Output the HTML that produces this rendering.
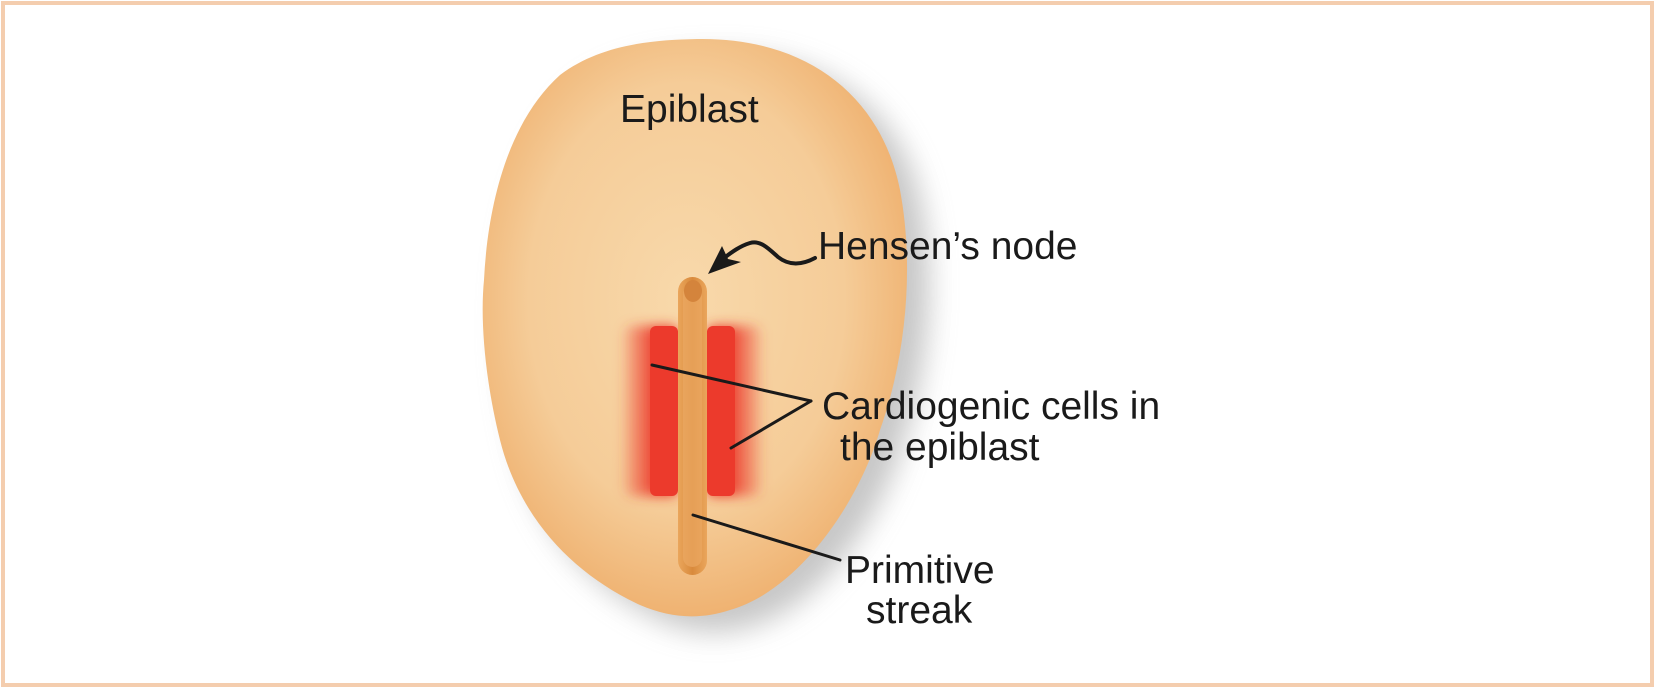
<!DOCTYPE html>
<html><head><meta charset="utf-8"><style>
html,body{margin:0;padding:0;background:#fff;}
svg{display:block;}
text{font-family:"Liberation Sans",Arial,sans-serif;fill:#1a1a1a;}
</style></head><body>
<svg width="1655" height="688" viewBox="0 0 1655 688" xmlns="http://www.w3.org/2000/svg">
<defs>
<radialGradient id="egg" cx="0.48" cy="0.45" r="0.62">
<stop offset="0" stop-color="#f8d9ab"/>
<stop offset="0.6" stop-color="#f5cc98"/>
<stop offset="1" stop-color="#eda862"/>
</radialGradient>
<filter id="sh" x="-20%" y="-20%" width="150%" height="150%"><feGaussianBlur stdDeviation="14"/></filter>
<filter id="bl" x="-30%" y="-10%" width="160%" height="120%"><feGaussianBlur stdDeviation="6"/></filter>
<linearGradient id="st" x1="0" x2="1"><stop offset="0" stop-color="#eaa65c"/><stop offset="0.5" stop-color="#d98a3c"/><stop offset="1" stop-color="#eaa65c"/></linearGradient>
<linearGradient id="rl" x1="0" x2="1"><stop offset="0" stop-color="#ec3a2c" stop-opacity="0.15"/><stop offset="0.6" stop-color="#ec3a2c"/><stop offset="1" stop-color="#ec3a2c"/></linearGradient>
<linearGradient id="rr" x1="0" x2="1"><stop offset="0" stop-color="#ec3a2c"/><stop offset="0.4" stop-color="#ec3a2c"/><stop offset="1" stop-color="#ec3a2c" stop-opacity="0.15"/></linearGradient>
</defs>
<rect x="3" y="3" width="1649" height="682" fill="#fff" stroke="#f4cdae" stroke-width="4"/>
<path d="M697,39 C800,37 880,90 900,190 C915,270 905,360 880,430 C860,500 800,590 730,610 C700,620 670,618 640,605 C575,575 520,520 500,440 C485,380 480,320 484,280 C488,200 510,120 560,75 C600,45 650,40 697,39 Z" fill="#9a9a9a" opacity="0.55" filter="url(#sh)" transform="translate(22,16)"/>
<path d="M697,39 C800,37 880,90 900,190 C915,270 905,360 880,430 C860,500 800,590 730,610 C700,620 670,618 640,605 C575,575 520,520 500,440 C485,380 480,320 484,280 C488,200 510,120 560,75 C600,45 650,40 697,39 Z" fill="url(#egg)"/>
<rect x="624" y="326" width="54" height="170" rx="8" fill="url(#rl)" filter="url(#bl)"/>
<rect x="707" y="326" width="54" height="170" rx="8" fill="url(#rr)" filter="url(#bl)"/>
<rect x="650" y="326" width="28" height="170" rx="6" fill="#ec3a2c"/>
<rect x="707" y="326" width="28" height="170" rx="6" fill="#ec3a2c"/>
<rect x="678" y="277" width="29" height="298" rx="14.5" fill="url(#st)"/>
<rect x="683" y="285" width="19" height="282" rx="9.5" fill="#eba862" opacity="0.7"/>
<ellipse cx="693" cy="291" rx="9" ry="11" fill="#d4843c"/>
<g stroke="#1a1a1a" stroke-width="3" fill="none" stroke-linecap="round">
<line x1="652" y1="365" x2="811" y2="401"/>
<line x1="731" y1="448" x2="811" y2="401"/>
<line x1="693" y1="515" x2="840" y2="560"/>
<path d="M815,258 C800,266 788,265 778,257 C768,248 760,240 750,243 C740,246 732,252 724,258" stroke-width="4"/>
</g>
<polygon points="708,274 722,246 728,259 741,262" fill="#1a1a1a"/>
<text x="620" y="122" font-size="39">Epiblast</text>
<text x="818" y="259" font-size="39">Hensen’s node</text>
<text x="822" y="419" font-size="39">Cardiogenic cells in</text>
<text x="840" y="460" font-size="39">the epiblast</text>
<text x="845" y="583" font-size="39">Primitive</text>
<text x="866" y="623" font-size="39">streak</text>
</svg>
</body></html>
